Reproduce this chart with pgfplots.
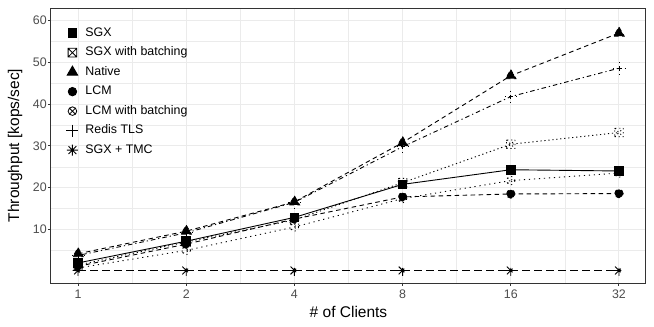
\documentclass[border=0pt]{standalone}
\usepackage{fontspec}
\setmainfont{Liberation Sans}
\usepackage{pgfplots}
\pgfplotsset{compat=1.18}

\definecolor{gridc}{HTML}{EBEBEB}
\definecolor{framec}{HTML}{333333}
\definecolor{tickc}{HTML}{4D4D4D}

% ggplot-like marks
\pgfdeclareplotmark{sqx}{%
  \pgfpathrectangle{\pgfqpoint{-\pgfplotmarksize}{-\pgfplotmarksize}}{\pgfqpoint{2\pgfplotmarksize}{2\pgfplotmarksize}}%
  \pgfpathmoveto{\pgfqpoint{-\pgfplotmarksize}{-\pgfplotmarksize}}\pgfpathlineto{\pgfqpoint{\pgfplotmarksize}{\pgfplotmarksize}}%
  \pgfpathmoveto{\pgfqpoint{-\pgfplotmarksize}{\pgfplotmarksize}}\pgfpathlineto{\pgfqpoint{\pgfplotmarksize}{-\pgfplotmarksize}}%
  \pgfusepathqstroke}
\pgfdeclareplotmark{cx}{%
  \pgfpathcircle{\pgfpointorigin}{\pgfplotmarksize}%
  \pgfpathmoveto{\pgfqpoint{-0.707\pgfplotmarksize}{-0.707\pgfplotmarksize}}\pgfpathlineto{\pgfqpoint{0.707\pgfplotmarksize}{0.707\pgfplotmarksize}}%
  \pgfpathmoveto{\pgfqpoint{-0.707\pgfplotmarksize}{0.707\pgfplotmarksize}}\pgfpathlineto{\pgfqpoint{0.707\pgfplotmarksize}{-0.707\pgfplotmarksize}}%
  \pgfusepathqstroke}
\pgfdeclareplotmark{star8}{%
  \pgfpathmoveto{\pgfqpoint{-\pgfplotmarksize}{0pt}}\pgfpathlineto{\pgfqpoint{\pgfplotmarksize}{0pt}}%
  \pgfpathmoveto{\pgfqpoint{0pt}{-\pgfplotmarksize}}\pgfpathlineto{\pgfqpoint{0pt}{\pgfplotmarksize}}%
  \pgfpathmoveto{\pgfqpoint{-0.707\pgfplotmarksize}{-0.707\pgfplotmarksize}}\pgfpathlineto{\pgfqpoint{0.707\pgfplotmarksize}{0.707\pgfplotmarksize}}%
  \pgfpathmoveto{\pgfqpoint{-0.707\pgfplotmarksize}{0.707\pgfplotmarksize}}\pgfpathlineto{\pgfqpoint{0.707\pgfplotmarksize}{-0.707\pgfplotmarksize}}%
  \pgfusepathqstroke}

\newcommand{\ticksize}{\fontsize{12.4bp}{14bp}\selectfont}
\newcommand{\labsize}{\fontsize{15.5bp}{18bp}\selectfont}

\begin{document}
\begin{tikzpicture}
\path[use as bounding box] (-51bp,-44bp) rectangle (603bp,283bp);
\begin{axis}[
  at={(0,0)}, anchor=south west,
  scale only axis, width=595bp, height=275bp,
  xmin=-0.25, xmax=5.25, ymin=-2.8, ymax=63,
  xtick={0,1,2,3,4,5}, xticklabels={1,2,4,8,16,32},
  minor xtick={0.5,1.5,2.5,3.5,4.5},
  ytick={10,20,30,40,50,60},
  minor ytick={5,15,25,35,45,55},
  grid=both,
  major grid style={gridc, line width=1bp},
  minor grid style={gridc, line width=0.5bp},
  axis line style={framec, line width=1bp},
  tick align=outside, major tick length=3bp, minor tick length=0pt,
  tick style={framec, line width=1bp},
  xtick pos=bottom, ytick pos=left,
  /pgf/number format/assume math mode=true,
  tick label style={font=\ticksize, text=tickc},
  yticklabel style={inner xsep=0.8bp},
  xlabel={\# of Clients}, ylabel={Throughput [kops/sec]},
  every axis x label/.style={at={(axis description cs:0.5,0)}, anchor=base, yshift=-34.5bp, font=\labsize},
  every axis y label/.style={at={(axis description cs:0,0.5)}, anchor=center, xshift=-36bp, rotate=90, font=\labsize},
  every mark/.append style={solid},
  line width=0.9bp,
  legend style={at={(axis description cs:0,1)}, anchor=north west, xshift=12bp, yshift=-16.7bp,
    draw=none, fill=none, font=\ticksize, row sep=7.5bp, column sep=7bp,
    nodes={inner sep=0pt, text height=9bp, text depth=3bp}},
  legend cell align=left,
  legend image code/.code={\draw[#1, solid] plot coordinates {(0bp,0bp)};},
]
\addplot[black, solid, mark=square*, mark size=4.3bp] coordinates {
  (0,2.0) (1,7.2) (2,12.9) (3,20.8) (4,24.3) (5,24.0)};
\addlegendentry{SGX}
\addplot[black, dash pattern=on 1.2bp off 2.8bp, mark=sqx, mark size=4.3bp, mark options={line width=0.8bp}] coordinates {
  (0,1.5) (1,7.0) (2,12.3) (3,21.2) (4,30.4) (5,33.2)};
\addlegendentry{SGX with batching}
\addplot[black, dash pattern=on 4.5bp off 3.5bp, mark=triangle*, mark size=6bp] coordinates {
  (0,4.2) (1,9.6) (2,16.6) (3,30.8) (4,46.8) (5,57.0)};
\addlegendentry{Native}
\addplot[black, dash pattern=on 4.5bp off 3.5bp, mark=*, mark size=4.2bp] coordinates {
  (0,1.2) (1,6.5) (2,12.5) (3,17.8) (4,18.5) (5,18.6)};
\addlegendentry{LCM}
\addplot[black, dash pattern=on 1.2bp off 3.8bp, mark=cx, mark size=4.3bp, mark options={line width=0.8bp}] coordinates {
  (0,0.8) (1,5.0) (2,10.6) (3,17.4) (4,21.7) (5,23.5)};
\addlegendentry{LCM with batching}
\addplot[black, dash pattern=on 1.2bp off 3bp on 4.5bp off 3bp, mark=+, mark size=6bp] coordinates {
  (0,3.8) (1,9.2) (2,16.5) (3,29.8) (4,41.8) (5,48.6)};
\addlegendentry{Redis TLS}
\addplot[black, dash pattern=on 8bp off 4bp, mark=star8, mark size=5.5bp] coordinates {
  (0,0.2) (1,0.2) (2,0.2) (3,0.2) (4,0.2) (5,0.2)};
\addlegendentry{SGX + TMC}
\end{axis}
\end{tikzpicture}
\end{document}
